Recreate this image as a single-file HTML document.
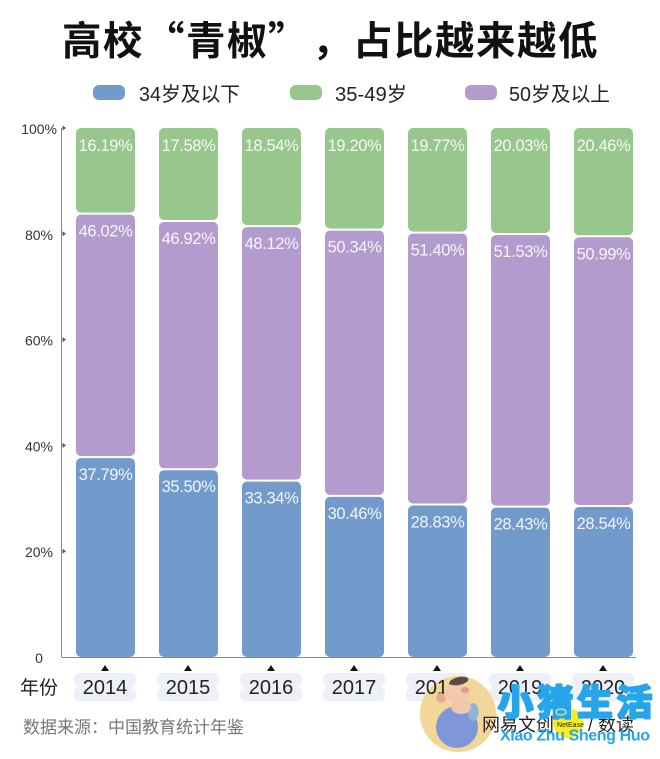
<!DOCTYPE html>
<html>
<head>
<meta charset="utf-8">
<style>
html,body{margin:0;padding:0;background:#fff;}
svg{display:block;font-family:"Liberation Sans","Noto Sans CJK SC",sans-serif;}
</style>
</head>
<body>
<svg id="chart" width="660" height="759" viewBox="0 0 660 759" xmlns="http://www.w3.org/2000/svg">
  <rect x="0" y="0" width="660" height="759" fill="#ffffff"/>
  <text x="62 103 145 186 227 268 312 353 394 435 476 517 558" y="55" font-size="39.5" font-weight="700" fill="#111" font-family="'Noto Sans CJK SC',sans-serif">高校“青椒”，占比越来越低</text>

  <g>
    <rect x="93" y="85" width="32" height="15" rx="6" fill="#729bcb"/>
    <text x="139" y="101" font-size="20" fill="#222" textLength="101" lengthAdjust="spacingAndGlyphs">34岁及以下</text>
    <rect x="290" y="85" width="32" height="15" rx="6" fill="#97c78c"/>
    <text x="335" y="101" font-size="20" fill="#222" textLength="72" lengthAdjust="spacingAndGlyphs">35-49岁</text>
    <rect x="465" y="85" width="32" height="15" rx="6" fill="#b39ccd"/>
    <text x="509" y="101" font-size="20" fill="#222" textLength="101" lengthAdjust="spacingAndGlyphs">50岁及以上</text>
  </g>

  <g id="y-axis-group"></g>
  <g id="bars"></g>
  <g id="x-axis-group"></g>

  <text x="20" y="694" font-size="19" fill="#222">年份</text>
  <text x="23" y="733" font-size="17" fill="#777">数据来源：中国教育统计年鉴</text>

  <circle cx="458" cy="714" r="38" fill="#f3d798"/>

  <g id="x-labels-group"></g>

  <g>
    <circle cx="457" cy="727" r="21" fill="#7f97d8"/>
    <ellipse cx="473" cy="712" rx="5.5" ry="9" fill="#8fb4dc"/>
    <ellipse cx="461" cy="707" rx="10" ry="7" fill="#efc6ae"/>
    <circle cx="441" cy="698" r="5" fill="#e6a994"/>
    <ellipse cx="457" cy="693" rx="13" ry="10" fill="#f3c8b0"/>
    <ellipse cx="465" cy="690" rx="4" ry="3" fill="#e59a8c"/>
    <ellipse cx="459" cy="681" rx="9.5" ry="4" fill="#5a4a44" transform="rotate(-12 459 681)"/>
  </g>

  <g>
    <circle cx="568" cy="723" r="15" fill="#f7ee1a"/>
    <text x="482" y="731" font-size="18" fill="#222">网易文创</text>
    <text x="557" y="727" font-size="7" fill="#222" textLength="27" lengthAdjust="spacing">NetEase</text>
    <text x="588" y="731" font-size="18" fill="#222">/</text>
    <text x="598" y="731" font-size="18" fill="#222">数读</text>
  </g>

  <g>
    <text x="498" y="715" font-size="35" font-weight="700" fill="#27a5ea" stroke="#27a5ea" stroke-width="3" stroke-linejoin="round" textLength="154" lengthAdjust="spacing" font-family="'Noto Sans CJK SC',sans-serif">小猪生活</text>
    <ellipse cx="561" cy="712" rx="5" ry="3" fill="#27a5ea" stroke="#dfe9a8" stroke-width="1.2"/>
    <text x="500" y="740.5" font-size="16" font-weight="700" fill="#27a5ea" textLength="150" lengthAdjust="spacing">Xiao Zhu Sheng Huo</text>
  </g>
</svg>
<script>
const years = ['2014','2015','2016','2017','2018','2019','2020'];
const youngShare = [37.79,35.50,33.34,30.46,28.83,28.43,28.54];
const seniorShare = [46.02,46.92,48.12,50.34,51.40,51.53,50.99];
const middleShare = [16.19,17.58,18.54,19.20,19.77,20.03,20.46];
const yTicks = [0,20,40,60,80,100];

const NS = 'http://www.w3.org/2000/svg';
const plotLeft = 61.5, plotRight = 636, plotTop = 128, plotBottom = 657;
const barWidth = 59, firstBarLeft = 76, barStep = 83;
const colors = {young:'#729bcb', senior:'#b39ccd', middle:'#97c78c'};

function yScale(v){ return plotBottom - (v / 100) * (plotBottom - plotTop); }
function xScale(i){ return firstBarLeft + i * barStep; }
function make(tag, attrs, parent, text){
  const el = document.createElementNS(NS, tag);
  for (const k in attrs) el.setAttribute(k, attrs[k]);
  if (text !== undefined) el.textContent = text;
  parent.appendChild(el);
  return el;
}

const yGroup = document.getElementById('y-axis-group');
const xGroup = document.getElementById('x-axis-group');
const xLabels = document.getElementById('x-labels-group');
const barGroup = document.getElementById('bars');

const yLine = make('line', {x1:plotLeft, x2:plotLeft, y1:plotTop, y2:plotBottom, stroke:'#888', 'stroke-width':1}, yGroup);



yTicks.forEach(function(t){
  const y = yScale(t);
  const label = make('text', {x: t === 0 ? 39 : (t === 100 ? 57 : 53), y: y + 6, 'font-size':14, 'text-anchor': t === 0 ? 'middle' : 'end', fill:'#333'}, yGroup, t === 0 ? '0' : t + '%');
  
  
  if (t !== 0) {
    const mark = make('path', {d:'M62.5 ' + (y-2.5) + 'L66 ' + y + 'L62.5 ' + (y+2.5) + 'Z', fill:'#555'}, yGroup);
    
    
  }
});

function segment(i, base, value, color, name){
  const x = xScale(i);
  const top = yScale(base + value);
  const bottom = yScale(base);
  const gapTop = base + value >= 99.9 ? 0 : 1;
  const gapBottom = base === 0 ? 0 : 1;
  const rect = make('rect', {x:x, y:top + gapTop, width:barWidth, height:Math.max(0, bottom - top - gapTop - gapBottom), rx:5, fill:color}, barGroup);
  
  
  const label = make('text', {x:x + barWidth / 2, y:top + 23, 'font-size':16.5, 'letter-spacing':-0.35, 'text-anchor':'middle', fill:'#ffffff', 'fill-opacity':0.9}, barGroup, value.toFixed(2) + '%');
  
  
}

years.forEach(function(year, i){
  const a = youngShare[i];
  const b = seniorShare[i];
  const c = middleShare[i];
  segment(i, 0, a, colors.young, 'young');
  segment(i, a, b, colors.senior, 'senior');
  segment(i, a + b, c, colors.middle, 'middle');

  const cx = xScale(i) + barWidth / 2 - 0.5;
  const tri = make('path', {d:'M' + (cx-4) + ' 671L' + cx + ' 665L' + (cx+4) + ' 671Z', fill:'#111'}, xGroup);
  
  
  const badge = make('rect', {x:cx - 31, y:673, width:62, height:28, rx:5, fill:'#eef0f8'}, xGroup);
  
  
  const notchLeft = make('circle', {cx:cx - 31, cy:687, r:3, fill:'#ffffff'}, xGroup);
  
  
  const notchRight = make('circle', {cx:cx + 31, cy:687, r:3, fill:'#ffffff'}, xGroup);
  
  
  const label = make('text', {x:cx, y:694, 'font-size':20, 'text-anchor':'middle', fill:'#222'}, xLabels, year);
  
  
});

const xLine = make('line', {x1:plotLeft, x2:plotRight, y1:plotBottom + 0.5, y2:plotBottom + 0.5, stroke:'#888', 'stroke-width':1}, yGroup);


</script>
</body>
</html>
